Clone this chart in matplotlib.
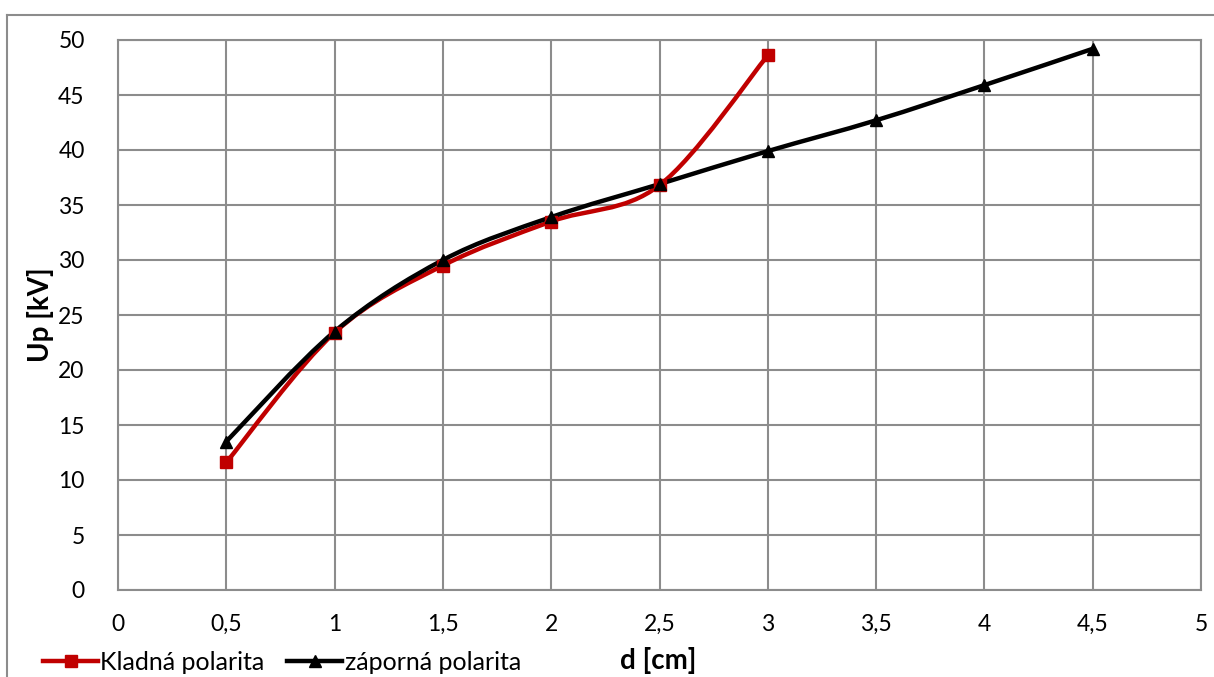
import numpy as np
import matplotlib
matplotlib.use("Agg")
import matplotlib.pyplot as plt
from matplotlib.path import Path
from matplotlib.patches import PathPatch
from matplotlib.lines import Line2D

plt.rcParams['font.family'] = ['Lato', 'DejaVu Sans']

# Breakdown voltage vs. gap distance
d_pos = [0.5, 1.0, 1.5, 2.0, 2.5, 3.0]
u_pos = [11.6, 23.4, 29.5, 33.5, 36.8, 48.6]

d_neg = [0.5, 1.0, 1.5, 2.0, 2.5, 3.0, 3.5, 4.0, 4.5]
u_neg = [13.5, 23.5, 30.0, 33.9, 36.9, 39.9, 42.7, 45.9, 49.2]

x_ticks = [0, 0.5, 1, 1.5, 2, 2.5, 3, 3.5, 4, 4.5, 5]
y_ticks = [0, 5, 10, 15, 20, 25, 30, 35, 40, 45, 50]

RED = '#C00000'
GRID = '#8c8c8c'


def smooth_path(x, y):
    """Cubic Bezier path through the points (spreadsheet-style smoothing)."""
    p = np.column_stack([x, y]).astype(float)
    n = len(p)
    verts = [p[0]]
    codes = [Path.MOVETO]
    for i in range(n - 1):
        p0 = p[i - 1] if i > 0 else p[i]
        p1 = p[i]
        p2 = p[i + 1]
        p3 = p[i + 2] if i + 2 < n else p[i + 1]
        c1 = p1 + (p2 - p0) / 6.0
        c2 = p2 - (p3 - p1) / 6.0
        verts += [c1, c2, p2]
        codes += [Path.CURVE4] * 3
    return Path(verts, codes)


fig = plt.figure(figsize=(12.14, 6.77), dpi=100)
ax = fig.add_axes([118 / 1214, 1 - 590 / 677, (1201 - 118) / 1214, 550 / 677])

for x, y, col, mk in [(d_pos, u_pos, RED, 's'), (d_neg, u_neg, 'black', '^')]:
    ax.add_patch(PathPatch(smooth_path(x, y), facecolor='none', edgecolor=col,
                           lw=3.2, capstyle='round', joinstyle='round', zorder=3))
    ax.plot(x, y, ls='none', marker=mk, ms=8.5, color=col, zorder=4)

ax.set_xlim(0, 5)
ax.set_ylim(0, 50)
ax.set_xticks(x_ticks)
ax.set_yticks(y_ticks)
ax.set_xticklabels([f"{v:g}".replace('.', ',') for v in x_ticks])
ax.set_yticklabels([str(v) for v in y_ticks])
ax.tick_params(length=0, labelsize=16.5, colors='black')
ax.tick_params(axis='y', pad=24)
ax.tick_params(axis='x', pad=17)
ax.grid(True, color=GRID, lw=1.5)
ax.set_axisbelow(True)
for s in ax.spines.values():
    s.set_color(GRID)
    s.set_linewidth(1.5)

ax.set_ylabel('Up [kV]', fontsize=20, fontweight='bold', labelpad=3)
fig.text(658 / 1214, 1 - 661 / 677, 'd [cm]', fontsize=20, fontweight='bold',
         ha='center', va='center')

handles = [Line2D([], [], color=RED, lw=3.2, marker='s', ms=8.5),
           Line2D([], [], color='black', lw=3.2, marker='^', ms=8.5)]
fig.legend(handles, ['Kladná polarita', 'záporná polarita'],
           loc='center left', bbox_to_anchor=(33 / 1214, 1 - 662 / 677),
           ncol=2, frameon=False, fontsize=18, handlelength=2.2,
           handletextpad=0.1, columnspacing=0.9, borderaxespad=0)

# outer chart frame
fig.add_artist(Line2D([7 / 1214, 1.0], [1 - 15 / 677] * 2, color=GRID, lw=1.5))
fig.add_artist(Line2D([7 / 1214] * 2, [0, 1 - 15 / 677], color=GRID, lw=1.5))

fig.savefig('out.png', dpi=100)
